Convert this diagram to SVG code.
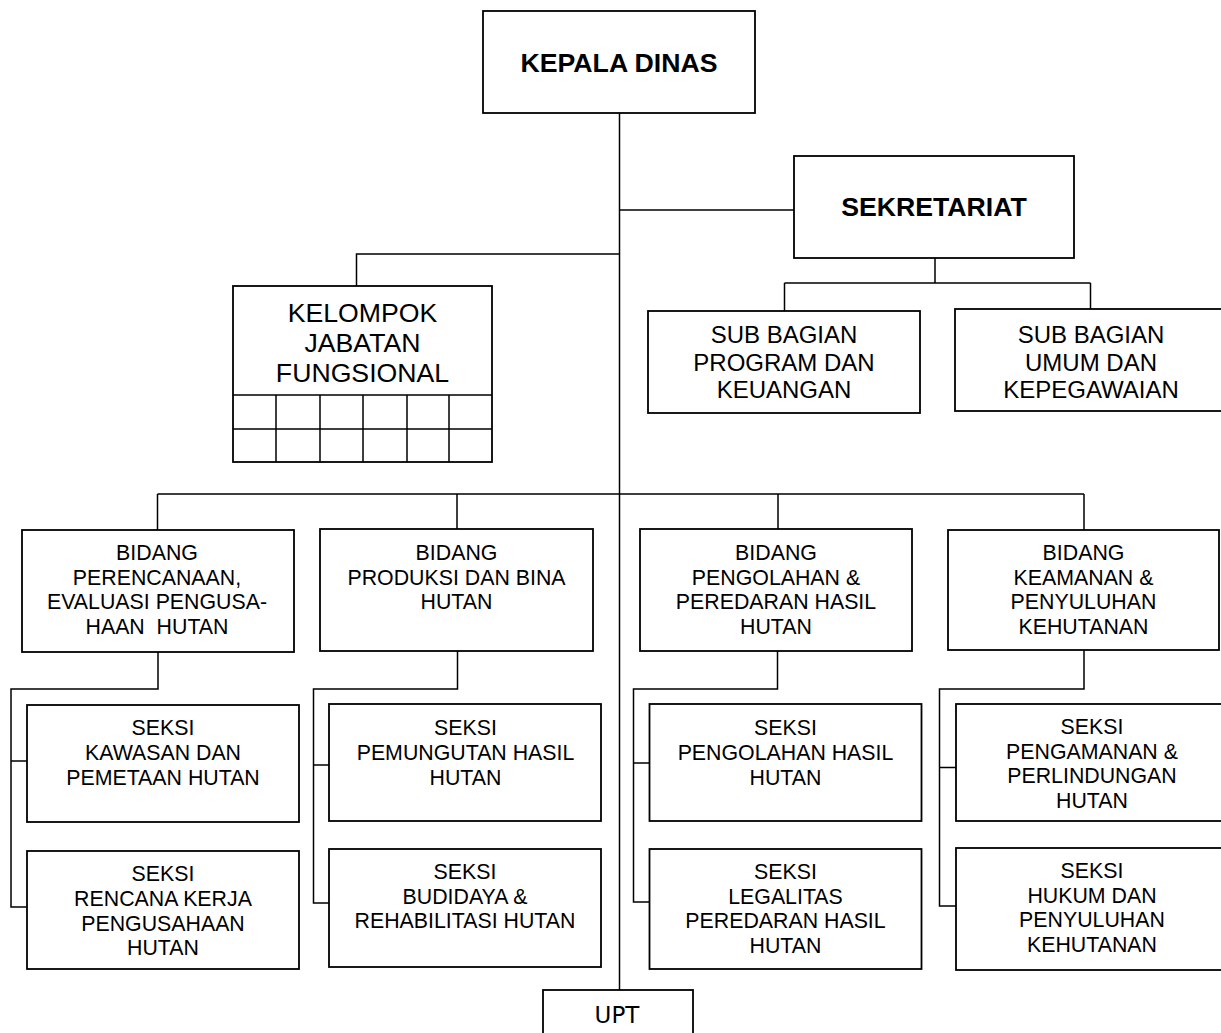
<svg xmlns="http://www.w3.org/2000/svg" width="1221" height="1033" viewBox="0 0 1221 1033">
  <style>
    .box { fill: #ffffff; stroke: #000000; stroke-width: 1.8; }
    .grid { fill: none; stroke: #000000; stroke-width: 1.5; }
    .link { fill: none; stroke: #000000; stroke-width: 1.5; }
    text { font-family: "Liberation Sans", Arial, sans-serif; fill: #000000; text-anchor: middle; }
    .title { font-size: 26.67px; font-weight: bold; }
    .big { font-size: 26.67px; }
    .mid { font-size: 24px; }
    .std { font-size: 21.33px; }
    .upt { font-family: "DejaVu Sans", sans-serif; font-size: 23px; }
  </style>
  <rect width="1221" height="1033" fill="#ffffff"/>

  <!-- connectors -->
  <g id="connectors">
    <path class="link" d="M619.5,113 V990"/>
    <path class="link" d="M619.5,210 H794"/>
    <path class="link" d="M935,258 V283 M784.5,283 H1090.5 M784.5,283 V311 M1090.5,283 V309"/>
    <path class="link" d="M619.5,254 H356.5 V286"/>
    <path class="link" d="M157.5,494 H1084 M157.5,494 V530 M457,494 V529 M778,494 V529 M1084,494 V530"/>
    <path class="link" d="M158,652 V689 H11 V907 H27 M11,761 H27"/>
    <path class="link" d="M457.5,651 V689 H313.5 V903 H329 M313.5,765 H329"/>
    <path class="link" d="M777.5,651 V689 H633.5 V902 H649.5 M633.5,763 H649.5"/>
    <path class="link" d="M1084,650 V689 H939.5 V906 H956 M939.5,767.5 H956"/>
  </g>

  <g id="kepala-dinas">
    <rect class="box" x="483" y="11" width="272" height="102"/>
    <text class="title" x="619" y="71.5">KEPALA DINAS</text>
  </g>

  <g id="sekretariat">
    <rect class="box" x="794" y="156" width="280" height="102"/>
    <text class="title" x="934" y="215.5">SEKRETARIAT</text>
  </g>

  <g id="kelompok-jabatan-fungsional">
    <rect class="box" x="233" y="286" width="259" height="176"/>
    <path class="grid" d="M233,395 H492 M233,429 H492 M276,395 V462 M320,395 V462 M363,395 V462 M407,395 V462 M449,395 V462"/>
    <text class="big" x="362.5" y="321.5">KELOMPOK</text>
    <text class="big" x="362.5" y="351.5">JABATAN</text>
    <text class="big" x="362.5" y="381.5">FUNGSIONAL</text>
  </g>

  <g id="sub-bagian-program">
    <rect class="box" x="648" y="311" width="272" height="102"/>
    <text class="mid" x="784" y="343">SUB BAGIAN</text>
    <text class="mid" x="784" y="371">PROGRAM DAN</text>
    <text class="mid" x="784" y="398">KEUANGAN</text>
  </g>

  <g id="sub-bagian-umum">
    <rect class="box" x="955" y="309" width="272" height="102"/>
    <text class="mid" x="1091" y="342.5">SUB BAGIAN</text>
    <text class="mid" x="1091" y="371">UMUM DAN</text>
    <text class="mid" x="1091" y="397.5">KEPEGAWAIAN</text>
  </g>

  <g id="bidang-perencanaan">
    <rect class="box" x="22" y="530" width="272" height="122"/>
    <text class="std" x="157" y="560">BIDANG</text>
    <text class="std" x="157" y="584.5">PERENCANAAN,</text>
    <text class="std" x="157" y="609">EVALUASI PENGUSA-</text>
    <text class="std" x="157" y="633.5" style="white-space:pre">HAAN  HUTAN</text>
  </g>

  <g id="bidang-produksi">
    <rect class="box" x="320" y="529" width="273" height="122"/>
    <text class="std" x="456.5" y="560">BIDANG</text>
    <text class="std" x="456.5" y="584.5">PRODUKSI DAN BINA</text>
    <text class="std" x="456.5" y="609">HUTAN</text>
  </g>

  <g id="bidang-pengolahan">
    <rect class="box" x="640" y="529" width="272" height="122"/>
    <text class="std" x="776" y="560">BIDANG</text>
    <text class="std" x="776" y="584.5">PENGOLAHAN &amp;</text>
    <text class="std" x="776" y="609">PEREDARAN HASIL</text>
    <text class="std" x="776" y="633.5">HUTAN</text>
  </g>

  <g id="bidang-keamanan">
    <rect class="box" x="948" y="530" width="271" height="120"/>
    <text class="std" x="1083.5" y="560">BIDANG</text>
    <text class="std" x="1083.5" y="584.5">KEAMANAN &amp;</text>
    <text class="std" x="1083.5" y="609">PENYULUHAN</text>
    <text class="std" x="1083.5" y="633.5">KEHUTANAN</text>
  </g>

  <g id="seksi-kawasan">
    <rect class="box" x="27" y="705" width="272" height="117"/>
    <text class="std" x="163" y="735">SEKSI</text>
    <text class="std" x="163" y="760">KAWASAN DAN</text>
    <text class="std" x="163" y="785">PEMETAAN HUTAN</text>
  </g>

  <g id="seksi-rencana-kerja">
    <rect class="box" x="27" y="851" width="272" height="118"/>
    <text class="std" x="163" y="881">SEKSI</text>
    <text class="std" x="163" y="906">RENCANA KERJA</text>
    <text class="std" x="163" y="930.5">PENGUSAHAAN</text>
    <text class="std" x="163" y="955">HUTAN</text>
  </g>

  <g id="seksi-pemungutan">
    <rect class="box" x="329" y="704" width="272" height="117"/>
    <text class="std" x="465.5" y="735">SEKSI</text>
    <text class="std" x="465.5" y="760">PEMUNGUTAN HASIL</text>
    <text class="std" x="465.5" y="784.5">HUTAN</text>
  </g>

  <g id="seksi-budidaya">
    <rect class="box" x="329" y="849" width="272" height="118"/>
    <text class="std" x="465" y="879">SEKSI</text>
    <text class="std" x="465" y="903.5">BUDIDAYA &amp;</text>
    <text class="std" x="465" y="928">REHABILITASI HUTAN</text>
  </g>

  <g id="seksi-pengolahan">
    <rect class="box" x="649.5" y="704" width="272" height="117"/>
    <text class="std" x="785.5" y="735">SEKSI</text>
    <text class="std" x="785.5" y="760">PENGOLAHAN HASIL</text>
    <text class="std" x="785.5" y="785">HUTAN</text>
  </g>

  <g id="seksi-legalitas">
    <rect class="box" x="649.5" y="849" width="272" height="120"/>
    <text class="std" x="785.5" y="879">SEKSI</text>
    <text class="std" x="785.5" y="903.5">LEGALITAS</text>
    <text class="std" x="785.5" y="928">PEREDARAN HASIL</text>
    <text class="std" x="785.5" y="952.5">HUTAN</text>
  </g>

  <g id="seksi-pengamanan">
    <rect class="box" x="956" y="704" width="272" height="117"/>
    <text class="std" x="1092" y="734">SEKSI</text>
    <text class="std" x="1092" y="758.5">PENGAMANAN &amp;</text>
    <text class="std" x="1092" y="783">PERLINDUNGAN</text>
    <text class="std" x="1092" y="807.5">HUTAN</text>
  </g>

  <g id="seksi-hukum">
    <rect class="box" x="956" y="848" width="272" height="122"/>
    <text class="std" x="1092" y="878">SEKSI</text>
    <text class="std" x="1092" y="902.5">HUKUM DAN</text>
    <text class="std" x="1092" y="927">PENYULUHAN</text>
    <text class="std" x="1092" y="951.5">KEHUTANAN</text>
  </g>

  <g id="upt">
    <rect class="box" x="543" y="990" width="150" height="60"/>
    <text class="upt" x="617" y="1022.5">UPT</text>
  </g>
</svg>
